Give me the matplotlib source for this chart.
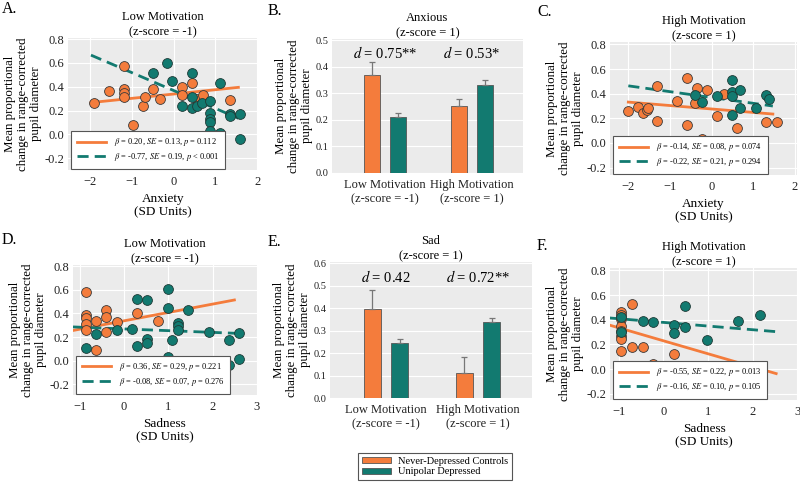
import matplotlib
matplotlib.use("Agg")
import matplotlib.pyplot as plt
from matplotlib.lines import Line2D
from matplotlib.patches import Patch

plt.rcParams['font.family'] = ['Liberation Serif', 'DejaVu Serif']
plt.rcParams['mathtext.fontset'] = 'stix'

ORANGE = '#F47C3C'
TEAL = '#127A70'
BG = '#EBEBEB'

# ---------------- data ----------------
# Panel A: Low Motivation, Anxiety
a_ctrl_x = [-1.90, -1.56, -1.20, -1.20, -1.20, -1.20, -0.98, -0.73, -0.69, -0.50, -0.33, 0.19, 0.19, 0.43, 0.55, 0.71, 1.35]
a_ctrl_y = [0.267, 0.367, 0.574, 0.378, 0.345, 0.311, 0.079, 0.239, 0.311, 0.378, 0.294, 0.40, 0.33, 0.428, 0.30, 0.33, 0.29]
a_dep_x = [-0.50, -0.15, -0.03, 0.19, 0.43, 0.43, 0.43, 0.55, 0.67, 0.88, 0.88, 0.88, 0.88, 0.88, 1.12, 1.12, 1.35, 1.35, 1.59, 1.59]
a_dep_y = [0.518, 0.60, 0.45, 0.239, 0.512, 0.219, 0.317, 0.239, 0.267, 0.283, 0.183, 0.127, 0.107, 0.032, 0.428, 0.010, 0.171, 0.150, 0.171, -0.038]
a_fit_x = [-1.98, 1.55]
a_ctrl_fit = [0.267, 0.395]
a_dep_fit = [0.666, 0.135]
a_labels = [r'$\beta$ = 0.20, $SE$ = 0.13, $p$ = 0.112', r'$\beta$ = -0.77, $SE$ = 0.19, $p$ < 0.001']

# Panel C: High Motivation, Anxiety
c_ctrl_x = [-2.0, -1.76, -1.64, -1.54, -1.53, -1.30, -1.30, -0.83, -0.59, -0.59, -0.34, -0.41, -0.22, -0.10, 0.13, 0.30, 0.60, 1.31, 1.56]
c_ctrl_y = [0.257, 0.289, 0.244, 0.271, 0.285, 0.459, 0.176, 0.343, 0.526, 0.144, 0.445, 0.324, 0.034, 0.432, 0.222, 0.40, 0.120, 0.171, 0.169]
c_dep_x = [-0.41, -0.22, 0.13, 0.48, 0.48, 0.48, 0.48, 0.67, 0.67, 1.07, 1.31, 1.37]
c_dep_y = [0.386, 0.332, 0.383, 0.512, 0.418, 0.378, 0.225, 0.432, 0.285, 0.285, 0.391, 0.356]
c_fit_x = [-2.0, 1.47]
c_ctrl_fit = [0.332, 0.235]
c_dep_fit = [0.464, 0.300]
c_labels = [r'$\beta$ = -0.14, $SE$ = 0.08, $p$ = 0.074', r'$\beta$ = -0.22, $SE$ = 0.21, $p$ = 0.294']

# Panel D: Low Motivation, Sadness
d_ctrl_x = [-0.855, -0.855, -0.855, -0.855, -0.855, -0.62, -0.62, -0.40, -0.40, -0.40, -0.16, 0.29, 0.76]
d_ctrl_y = [0.578, 0.389, 0.361, 0.311, 0.264, 0.333, 0.089, 0.431, 0.369, 0.239, 0.325, 0.403, 0.339]
d_dep_x = [-0.855, -0.62, -0.16, 0.18, 0.29, 0.29, 0.53, 0.53, 0.53, 0.99, 0.99, 0.99, 1.09, 1.22, 1.22, 1.22, 1.44, 1.91, 2.36, 2.36, 2.60, 2.60]
d_dep_y = [0.106, 0.222, 0.264, 0.272, 0.522, 0.125, 0.514, 0.186, 0.147, 0.603, 0.450, 0.033, 0.175, 0.319, 0.292, 0.264, 0.431, 0.244, 0.175, -0.033, 0.231, 0.014]
d_ctrl_fit_x = [-1.15, 2.49]
d_ctrl_fit = [0.256, 0.514]
d_dep_fit_x = [-1.15, 2.60]
d_dep_fit = [0.286, 0.231]
d_labels = [r'$\beta$ = 0.36, $SE$ = 0.29, $p$ = 0.221', r'$\beta$ = -0.08, $SE$ = 0.07, $p$ = 0.276']

# Panel F: High Motivation, Sadness
f_ctrl_x = [-0.71, -0.95, -0.95, -0.95, -0.95, -0.95, -0.95, -0.95, -0.95, -0.71, -0.47, -0.23, 0.24]
f_ctrl_y = [0.529, 0.463, 0.437, 0.410, 0.349, 0.309, 0.270, 0.243, 0.150, 0.182, 0.182, 0.044, 0.124]
f_dep_x = [-0.95, -0.95, -0.47, -0.23, 0.24, 0.24, 0.48, 0.48, 0.97, 1.68, 2.16]
f_dep_y = [0.421, 0.305, 0.394, 0.383, 0.362, 0.290, 0.516, 0.341, 0.238, 0.389, 0.437]
f_fit_x = [-1.21, 2.53]
f_ctrl_fit = [0.357, -0.036]
f_dep_fit = [0.415, 0.304]
f_labels = [r'$\beta$ = -0.55, $SE$ = 0.22, $p$ = 0.013', r'$\beta$ = -0.16, $SE$ = 0.10, $p$ = 0.105']

# Bar panels
bar_groups = ['Low Motivation\n(z-score = -1)', 'High Motivation\n(z-score = 1)']
b_ctrl = [0.371, 0.252]
b_ctrl_err = [0.049, 0.028]
b_dep = [0.211, 0.330]
b_dep_err = [0.017, 0.022]
b_d = [r'$d$ = 0.75**', r'$d$ = 0.53*']
e_ctrl = [0.398, 0.111]
e_ctrl_err = [0.084, 0.072]
e_dep = [0.246, 0.338]
e_dep_err = [0.018, 0.019]
e_d = [r'$d$ = 0.42', r'$d$ = 0.72**']

group_names = ['Never-Depressed Controls', 'Unipolar Depressed']

# ---------------- figure ----------------
W, H = 800, 483
fig = plt.figure(figsize=(8, 4.83), dpi=100)


def add_ax(x0, y0, x1, y1):
    return fig.add_axes([x0 / W, 1 - y1 / H, (x1 - x0) / W, (y1 - y0) / H])


YLAB = 'Mean proportional\nchange in range-corrected\npupil diameter'


def style(ax, tick_size=9):
    ax.set_facecolor(BG)
    for s in ax.spines.values():
        s.set_visible(False)
    ax.grid(True, color='white', lw=0.8)
    ax.set_axisbelow(True)
    ax.tick_params(length=0, labelsize=tick_size, pad=4, colors='#222222')
    ax.tick_params(axis='y', pad=2.5)
    ax.set_ylabel(YLAB, fontsize=9.3, linespacing=1.1, labelpad=2)


def scatter_panel(ax, cx, cy, dx, dy, fx1, fy1, fx2, fy2, labels, title, xlabel, xlim, ylim, xticks):
    style(ax)
    ax.plot(fx1, fy1, color=ORANGE, lw=2.0, zorder=2)
    ax.plot(fx2, fy2, color=TEAL, lw=2.0, ls=(0, (4, 2.2)), zorder=2)
    ax.scatter(cx, cy, s=50, color=ORANGE, edgecolor='#3a3a3a', linewidth=0.6, zorder=3)
    ax.scatter(dx, dy, s=50, color=TEAL, edgecolor='#1f3a36', linewidth=0.6, zorder=3)
    ax.set_xlim(*xlim)
    ax.set_ylim(*ylim)
    ax.set_xticks(xticks)
    ax.set_yticks([-0.2, 0.0, 0.2, 0.4, 0.6, 0.8])
    ax.set_yticklabels(['-0.2', '0.0', '0.2', '0.4', '0.6', '0.8'])
    ax.set_title(title, fontsize=9, linespacing=1.35, pad=2)
    ax.set_xlabel(xlabel, fontsize=9.5, linespacing=1.15, labelpad=4)
    handles = [Line2D([], [], color=ORANGE, lw=2.0),
               Line2D([], [], color=TEAL, lw=2.0, ls=(0, (4, 2.2)))]
    leg = ax.legend(handles, labels, loc='lower left', bbox_to_anchor=(0.01, 0.0),
                    borderaxespad=0.15,
                    fontsize=6.0, handlelength=3.5, frameon=True, fancybox=False,
                    edgecolor='#555555', facecolor='white', framealpha=1,
                    borderpad=0.65, labelspacing=0.35, handletextpad=1.0)
    leg.get_frame().set_linewidth(0.8)


def bar_panel(ax, ctrl, ctrl_err, dep, dep_err, dtexts, title, ylim, yticks, dy_text):
    style(ax)
    xs = [0, 1]
    off = 0.15
    w = 0.185
    ax.bar([x - off for x in xs], ctrl, width=w, color=ORANGE, edgecolor='#555555', linewidth=0.6, zorder=2)
    ax.bar([x + off for x in xs], dep, width=w, color=TEAL, edgecolor='#555555', linewidth=0.6, zorder=2)
    ax.errorbar([x - off for x in xs], ctrl, yerr=[[0, 0], ctrl_err], fmt='none', ecolor='#777777',
                elinewidth=0.9, capsize=2, capthick=0.9, zorder=3)
    ax.errorbar([x + off for x in xs], dep, yerr=[[0, 0], dep_err], fmt='none', ecolor='#777777',
                elinewidth=0.9, capsize=2, capthick=0.9, zorder=3)
    for x, t in zip(xs, dtexts):
        ax.text(x, dy_text, t, ha='center', va='center', fontsize=10.5)
    ax.set_xticks(xs)
    ax.set_xticklabels(bar_groups, fontsize=9, linespacing=1.25)
    ax.set_xlim(-0.61, 1.59)
    ax.set_ylim(*ylim)
    ax.set_yticks(yticks)
    ax.set_yticklabels(['%.1f' % v for v in yticks], fontsize=7.5)
    ax.grid(False, axis='x')
    ax.set_title(title, fontsize=9, linespacing=1.35, pad=2)


axA = add_ax(68, 38, 258, 170)
scatter_panel(axA, a_ctrl_x, a_ctrl_y, a_dep_x, a_dep_y, a_fit_x, a_ctrl_fit, a_fit_x, a_dep_fit,
              a_labels, 'Low Motivation\n(z-score = -1)', 'Anxiety\n(SD Units)',
              (-2.53, 2.02), (-0.3, 0.81), [-2, -1, 0, 1, 2])

axB = add_ax(332, 39, 523, 173)
bar_panel(axB, b_ctrl, b_ctrl_err, b_dep, b_dep_err, b_d, 'Anxious\n(z-score = 1)',
          (0, 0.505), [0.0, 0.1, 0.2, 0.3, 0.4, 0.5], 0.453)

axC = add_ax(610, 42, 797, 175)
scatter_panel(axC, c_ctrl_x, c_ctrl_y, c_dep_x, c_dep_y, c_fit_x, c_ctrl_fit, c_fit_x, c_dep_fit,
              c_labels, 'High Motivation\n(z-score = 1)', 'Anxiety\n(SD Units)',
              (-2.44, 2.05), (-0.26, 0.82), [-2, -1, 0, 1, 2])

axD = add_ax(73, 265, 257, 395)
scatter_panel(axD, d_ctrl_x, d_ctrl_y, d_dep_x, d_dep_y, d_ctrl_fit_x, d_ctrl_fit, d_dep_fit_x, d_dep_fit,
              d_labels, 'Low Motivation\n(z-score = -1)', 'Sadness\n(SD Units)',
              (-1.15, 3.0), (-0.29, 0.81), [-1, 0, 1, 2, 3])

axE = add_ax(330, 262, 532, 398)
bar_panel(axE, e_ctrl, e_ctrl_err, e_dep, e_dep_err, e_d, 'Sad\n(z-score = 1)',
          (0, 0.605), [0.0, 0.1, 0.2, 0.3, 0.4, 0.5, 0.6], 0.54)

axF = add_ax(610, 268, 798, 400)
scatter_panel(axF, f_ctrl_x, f_ctrl_y, f_dep_x, f_dep_y, f_fit_x, f_ctrl_fit, f_fit_x, f_dep_fit,
              f_labels, 'High Motivation\n(z-score = 1)', 'Sadness\n(SD Units)',
              (-1.2, 3.02), (-0.25, 0.82), [-1, 0, 1, 2, 3])

# panel letters
for lab, x, y in [('A.', 2, 9), ('B.', 268, 11), ('C.', 537, 12),
                  ('D.', 2, 240), ('E.', 268, 242), ('F.', 537, 246)]:
    fig.text(x / W, 1 - y / H, lab, fontsize=11.5, va='center', ha='left')

# bar legend
bh = [Patch(facecolor=ORANGE, edgecolor='#555555', linewidth=0.6),
      Patch(facecolor=TEAL, edgecolor='#555555', linewidth=0.6)]
bl = fig.legend(bh, group_names, loc='center', bbox_to_anchor=(435 / W, 1 - 466.5 / H),
                fontsize=7.5, handlelength=2.8, handleheight=0.5, frameon=True, fancybox=False,
                edgecolor='#555555', facecolor='white', framealpha=1, borderpad=0.35,
                labelspacing=0.15, handletextpad=0.7)
bl.get_frame().set_linewidth(0.8)

fig.savefig('out.png', dpi=100)
